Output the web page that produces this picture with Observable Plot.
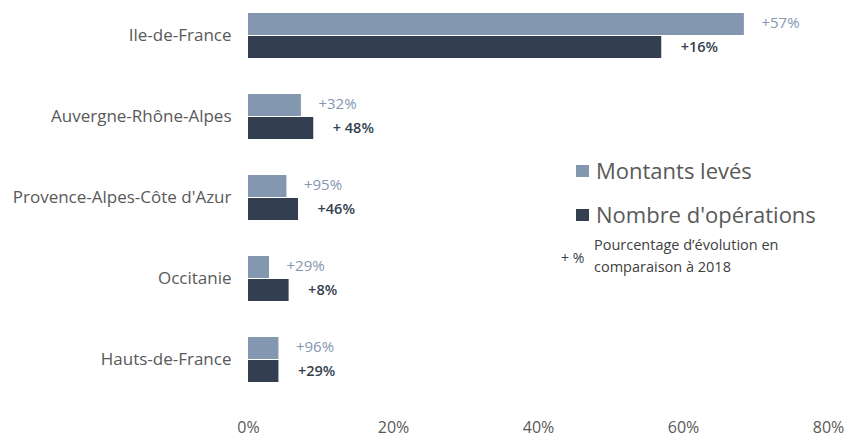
<!DOCTYPE html>
<html><head><meta charset="utf-8">
<script src="https://cdn.jsdelivr.net/npm/d3@7"></script>
<script src="https://cdn.jsdelivr.net/npm/@observablehq/plot@0.6"></script>
<style>
body{margin:0;background:#fff;font-family:"Open Sans",sans-serif;}
#wrap{position:relative;width:844px;height:437px;}
.lg{position:absolute;color:#595959;white-space:nowrap;}
.sq{position:absolute;width:13px;height:12px;}
</style></head><body><div id="wrap"></div>
<script>
const regions = ["Ile-de-France","Auvergne-Rhône-Alpes","Provence-Alpes-Côte d'Azur","Occitanie","Hauts-de-France"];
const montants = [68.4, 7.3, 5.3, 2.9, 4.2];
const operations = [57.0, 9.0, 6.9, 5.6, 4.2];
const evolMontants = ["+57%","+32%","+95%","+29%","+96%"];
const evolOperations = ["+16%","+ 48%","+46%","+8%","+29%"];
const xTicks = [0,20,40,60,80];
const seriesNames = ["Montants levés","Nombre d'opérations"];
const colors = ["#8497B0","#333F50"];

const data = regions.map((r,i)=>({region:r, montants:montants[i], operations:operations[i], em:evolMontants[i], eo:evolOperations[i]}));
const half = 23;
const chart = Plot.plot({
  width: 844, height: 437,
  marginLeft: 248, marginRight: 16, marginTop: 0, marginBottom: 41,
  style: {fontFamily: "'Open Sans', sans-serif", color: "#595959", background: "#fff"},
  x: {domain: [0, 80], ticks: xTicks},
  y: {domain: regions, paddingInner: 0.44, paddingOuter: 0.135},
  marks: [
    Plot.barX(data, {x: "montants", y: "region", fill: colors[0], insetBottom: half}),
    Plot.barX(data, {x: "operations", y: "region", fill: colors[1], insetTop: half}),
    Plot.text(data, {x: "montants", y: "region", text: "em", dy: -12.5, dx: 17, textAnchor: "start", fill: colors[0], fontSize: 15}),
    Plot.text(data, {x: "operations", y: "region", text: "eo", dy: 11.5, dx: 19, textAnchor: "start", fill: colors[1], fontSize: 14.5, fontWeight: 600}),
    Plot.axisX({ticks: xTicks, tickSize: 0, tickPadding: 25, tickFormat: d => d + "%", fontSize: 16, label: null}),
    Plot.axisY({tickSize: 0, tickPadding: 17, fontSize: 17, label: null})
  ]
});
const wrap = document.getElementById("wrap");
wrap.appendChild(chart);
const add = (html, css, cls) => { const d = document.createElement("div"); d.className = cls; d.innerHTML = html; Object.assign(d.style, css); wrap.appendChild(d); };
add("", {left:"576px", top:"165px", background: colors[0]}, "sq");
add(seriesNames[0], {left:"596px", top:"155px", fontSize:"22px"}, "lg");
add("", {left:"576px", top:"209px", background: colors[1]}, "sq");
add(seriesNames[1], {left:"596px", top:"199px", fontSize:"22px"}, "lg");
add("+ %", {left:"561px", top:"248px", fontSize:"14px", color:"#333F50"}, "lg");
add("Pourcentage d’évolution en<br>comparaison à 2018", {left:"594px", top:"234px", fontSize:"14.5px", lineHeight:"22px", color:"#404040"}, "lg");
</script></body></html>
